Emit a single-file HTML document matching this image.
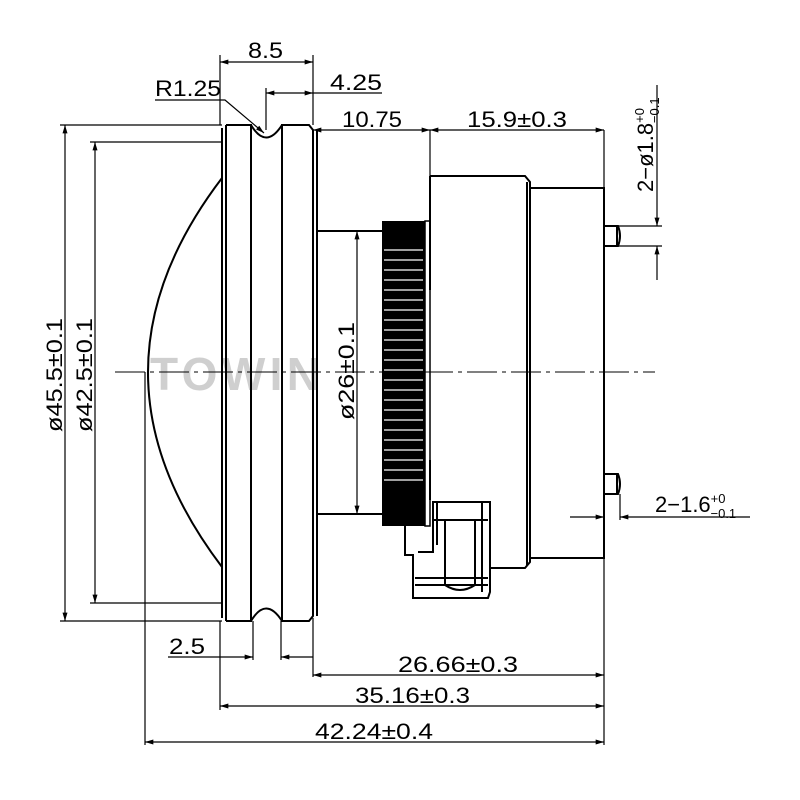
<!DOCTYPE html>
<html><head><style>
body{margin:0;background:#fff}
svg{display:block}
text{font-family:"Liberation Sans",sans-serif;fill:#000}
</style></head><body>
<svg width="800" height="800" viewBox="0 0 800 800" xmlns="http://www.w3.org/2000/svg">
<defs>
<marker id="a" viewBox="0 0 10 6" refX="10" refY="3" markerWidth="14" markerHeight="5" orient="auto-start-reverse" markerUnits="userSpaceOnUse"><path d="M0,0L10,3L0,6z" fill="#000"/></marker>
</defs>
<text x="150" y="390" font-size="46" font-weight="bold" style="fill:#cfcfcf" textLength="170">TOWIN</text>
<g stroke="#000" fill="none" stroke-width="2">
<path d="M222,178 Q74,372 222,567"/>
<path d="M222,128 L222,618 M226,125 L226,621 M226,125 L251,125 L251,621 L226,621"/>
<path d="M251,125 Q266,150 282,125"/>
<path d="M251,621 Q266,596 282,621"/>
<path d="M282,125 L309,125 L313,130 L313,616 L309,621 L282,621 Z"/>
<path d="M317,130 L317,616"/>
<path d="M317,231 L382,231 M317,514 L382,514"/>
<path d="M430,176 L525,176 L530,182 L530,562 L525,568 L490,568"/>
<path d="M430,176 L430,290 M430,460 L430,500 M527,182 L527,565"/>
<path d="M530,188 L604,188 L604,558 L530,558"/>
<path d="M604,226 L618,226 Q622,236 618,246 L604,246 M617,226 L617,246"/>
<path d="M604,474 L618,474 Q622,484 618,494 L604,494 M617,474 L617,494"/>
<path d="M405,526 L405,555 L413,555 L413,598 L488,598 L490,592 L490,502 L433,502 L433,552 L418,552 M437,502 L437,545 M482,502 L482,592 M433,520 L488,520 M415,578 L488,578 M415,585 L488,585 M445,520 L445,585 Q460,595 475,585 L475,520"/>
</g>
<rect x="382" y="221" width="43" height="305" fill="#000"/>
<g stroke="#fff" stroke-width="1.3">
<path d="M384,250 H423 M384,260 H423 M384,270 H423 M384,280 H423 M384,290 H423 M384,300 H423 M384,310 H423 M384,320 H423 M384,330 H423 M384,340 H423 M384,350 H423 M384,360 H423 M384,370 H423 M384,380 H423 M384,390 H423 M384,400 H423 M384,410 H423 M384,420 H423 M384,430 H423 M384,440 H423 M384,450 H423 M384,460 H423 M384,470 H423 M384,480 H423"/>
</g>
<rect x="425" y="221" width="5" height="305" fill="none" stroke="#000" stroke-width="1.5"/>
<path d="M115,372 H655" stroke="#000" stroke-width="1" stroke-dasharray="30,5,4,5"/>
<g stroke="#000" stroke-width="1.2" fill="none">
<path d="M220,55 V125 M313,55 V125"/>
<path d="M220,62 H313" marker-start="url(#a)" marker-end="url(#a)"/>
<path d="M266,88 V130"/>
<path d="M266,93 H313" marker-start="url(#a)" marker-end="url(#a)"/>
<path d="M313,93 H382"/>
<path d="M155,100 H225 L264,133" marker-end="url(#a)"/>
<path d="M313,130 H430" marker-start="url(#a)" marker-end="url(#a)"/>
<path d="M430,130 H604" marker-start="url(#a)" marker-end="url(#a)"/>
<path d="M430,130 V176 M604,130 V188"/>
<path d="M60,125 H222 M90,142 H222 M60,621 H222 M90,603 H222"/>
<path d="M65,125 V621" marker-start="url(#a)" marker-end="url(#a)"/>
<path d="M95,142 V603" marker-start="url(#a)" marker-end="url(#a)"/>
<path d="M357,231 V514" marker-start="url(#a)" marker-end="url(#a)"/>
<path d="M618,226 H662 M618,246 H662"/>
<path d="M657,85 V226" marker-end="url(#a)"/>
<path d="M657,280 V246" marker-end="url(#a)"/>
<path d="M620,494 V520"/>
<path d="M570,517 H604" marker-end="url(#a)"/>
<path d="M750,517 H620" marker-end="url(#a)"/>
<path d="M253,621 V660 M281,621 V660"/>
<path d="M168,657 H253" marker-end="url(#a)"/>
<path d="M313,657 H281" marker-end="url(#a)"/>
<path d="M313,618 V677 M220,621 V710 M145,372 V745 M604,558 V745"/>
<path d="M313,675 H604" marker-start="url(#a)" marker-end="url(#a)"/>
<path d="M220,706 H604" marker-start="url(#a)" marker-end="url(#a)"/>
<path d="M145,742 H604" marker-start="url(#a)" marker-end="url(#a)"/>
</g>
<g font-size="22" lengthAdjust="spacingAndGlyphs">
<text x="248" y="58" textLength="35" lengthAdjust="spacingAndGlyphs">8.5</text>
<text x="330" y="90" textLength="52" lengthAdjust="spacingAndGlyphs">4.25</text>
<text x="155" y="96" textLength="66" lengthAdjust="spacingAndGlyphs">R1.25</text>
<text x="342" y="127" textLength="60" lengthAdjust="spacingAndGlyphs">10.75</text>
<text x="467" y="127" textLength="100" lengthAdjust="spacingAndGlyphs">15.9±0.3</text>
<text x="169" y="654" textLength="36" lengthAdjust="spacingAndGlyphs">2.5</text>
<text x="398" y="672" textLength="120" lengthAdjust="spacingAndGlyphs">26.66±0.3</text>
<text x="355" y="703" textLength="115" lengthAdjust="spacingAndGlyphs">35.16±0.3</text>
<text x="315" y="739" textLength="118" lengthAdjust="spacingAndGlyphs">42.24±0.4</text>
<text x="655" y="512">2−1.6<tspan font-size="13" dy="-9">+0</tspan><tspan font-size="13" dx="-15" dy="15">−0.1</tspan></text>
<text transform="translate(62,432) rotate(-90)" textLength="114" lengthAdjust="spacingAndGlyphs">ø45.5±0.1</text>
<text transform="translate(92,432) rotate(-90)" textLength="114" lengthAdjust="spacingAndGlyphs">ø42.5±0.1</text>
<text transform="translate(354,420) rotate(-90)" textLength="98" lengthAdjust="spacingAndGlyphs">ø26±0.1</text>
<text transform="translate(653,192) rotate(-90)">2−ø1.8<tspan font-size="13" dy="-9">+0</tspan><tspan font-size="13" dx="-15" dy="15">−0.1</tspan></text>
</g>
</svg>
</body></html>
